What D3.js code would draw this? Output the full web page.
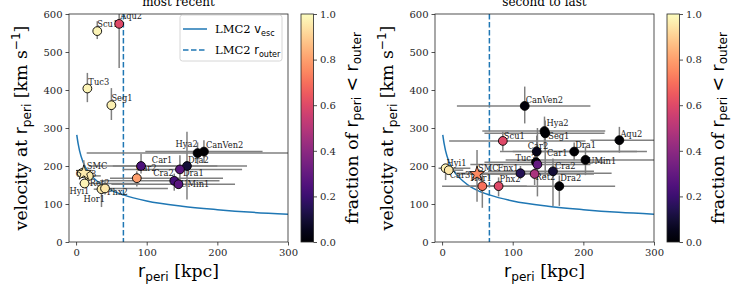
<!DOCTYPE html>
<html><head><meta charset="utf-8">
<script src="https://cdn.jsdelivr.net/npm/d3@7"></script>
<style>body{margin:0;background:#fff}svg{display:block}</style>
</head><body>
<svg id="c" width="743" height="284"></svg>
<script>
// ---------- data: most recent pericentre ----------
const names1 = ["Aqu2","Scu1","Tuc3","Seg1","CanVen2","Hya2","Dra2","Dra1","Car2","Car1","Cra2","UMin1","Car3","Ret2","SMC","Hyi1","Hor1","Phx2"];
const r1     = [61,30,16,50,181,172,157,147,92,86,139,145,8,18,11,12,36,41];
const v1     = [574,555,404,360,238,234,200,191,200,168,161,152,181,174,182,154,139,141];
const f1     = [0.6,0.98,0.98,0.97,0.0,0.0,0.1,0.27,0.24,0.8,0.22,0.27,0.97,0.96,0.96,0.98,0.96,0.95];
const rLo1   = [57,27,14,47,98,15,52,66,18,48,34,50,3,10,8,5,25,30];
const rHi1   = [65,33,18,53,264,305,242,235,200,208,203,225,25,35,14,90,45,130];
const vLo1   = [458,534,368,321,208,205,112,150,180,146,135,140,170,160,170,145,92,125];
const vHi1   = [610,581,445,405,268,262,290,228,232,186,180,165,195,190,215,165,158,160];

// ---------- data: second to last pericentre ----------
const names2 = ["CanVen2","Hya2","Seg1","Scu1","Aqu2","Car2","Dra1","UMin1","Car1","Tuc3","Fnx1","Ret2","Cra2","Dra2","Hyi1","Car3","SMC","Hor1","Phx2"];
const r2     = [117,145,146,86,251,134,187,203,133,135,111,131,157,166,5,9.5,49.5,57,80];
const v2     = [358,292,286,266,268,238,238,216,210,204,181,179,186,147,194,189,179,147,147];
const f2     = [0.02,0.0,0.0,0.6,0.0,0.05,0.0,0.0,0.0,0.3,0.15,0.47,0.1,0.0,0.97,0.95,0.75,0.7,0.6];
const rLo2   = [21,57,60,10,210,82,100,90,60,40,20,50,65,0,-5,0,20,40,50];
const rHi2   = [210,231,230,203,305,276,290,305,230,210,240,215,215,245,40,30,120,80,120];
const vLo2   = [312,250,171,240,235,200,215,176,185,120,165,150,95,95,163,180,106,90,120];
const vHi2   = [409,330,320,290,303,280,262,251,235,300,200,205,220,175,203,200,242,180,170];

// star marker names
const starNames = ["SMC"];

// LMC2 escape velocity curve
const escR = [1,3,5,10,20,30,40,50,67,100,150,200,250,300];
const escV = [282,258,240,210,178,160,146,136,124,108,94,85,78,73];
const rOuter = 67;

// axis ticks
const xTicks = [0,100,200,300];
const yTicks = [0,100,200,300,400,500,600];
const cTicks = [0,0.2,0.4,0.6,0.8,1.0];
const titles = ["most recent","second to last"];

// label offsets (pixels, style only)
const lab1 = {Aqu2:[1,-5],Scu1:[0,-4],Tuc3:[1,-3],Seg1:[0,-4],CanVen2:[2,-4],Hya2:[-22,-6],Dra2:[1,-3],Dra1:[3,7],
  Car2:[-5,5],Car1:[15,-15],Cra2:[-21,-5],UMin1:[2,3],SMC:[3,-4],Car3:[-6,4],Ret2:[1,10],Hyi1:[-15,11],Hor1:[-18,13],Phx2:[2,7]};
const lab2 = {CanVen2:[1,-3],Hya2:[2,-5],Seg1:[3,6],Scu1:[1,-2],Aqu2:[1,-3],Car2:[-9,-3],Dra1:[1,-4],Car1:[11,-6],
  UMin1:[2,4],Tuc3:[-22,-3],Cra2:[2,-2],Fnx1:[-23,-2],Ret2:[1,6],Dra2:[1,-5],Phx2:[1,-4],Hor1:[-12,-5],SMC:[1,-3],Car3:[1,8],Hyi1:[1,-2]};

// ---------- drawing ----------
const svg = d3.select("#c");
const SERIF = "DejaVu Serif", SANS = "DejaVu Sans";
const y = d3.scaleLinear().domain([0,600]).range([242,14]);
const panels = [
  {x: d3.scaleLinear().domain([-10,300]).range([69,288]), names:names1, r:r1, v:v1, f:f1, rLo:rLo1, rHi:rHi1, vLo:vLo1, vHi:vHi1, lab:lab1, cbx:301, legend:true},
  {x: d3.scaleLinear().domain([-10,300]).range([435,654]), names:names2, r:r2, v:v2, f:f2, rLo:rLo2, rHi:rHi2, vLo:vLo2, vHi:vHi2, lab:lab2, cbx:667, legend:false}
];
const color = d3.scaleSequential(d3.interpolateMagma).domain([0,1]);

function richText(sel, parts, size) {
  // parts: [text, family, kind] kind: 'n','sub','sup'
  let shift = 0;
  parts.forEach(p => {
    const t = sel.append("tspan").attr("font-family", p[1]).text(p[0]);
    let target = 0, fs = size;
    if (p[2] === "sub") { target = size*0.22; fs = size*0.7; }
    if (p[2] === "sup") { target = -size*0.4; fs = size*0.7; }
    t.attr("font-size", fs).attr("dy", target - shift);
    shift = target;
  });
}

const defs = svg.append("defs");
const grad = defs.append("linearGradient").attr("id","mag").attr("x1",0).attr("y1",1).attr("x2",0).attr("y2",0);
d3.range(0,1.0001,0.05).forEach(t => grad.append("stop").attr("offset", t).attr("stop-color", color(t)));

panels.forEach((P, pi) => {
  const g = svg.append("g");
  const [x0, x1] = P.x.range();
  defs.append("clipPath").attr("id","clip"+pi).append("rect").attr("x",x0).attr("y",14).attr("width",x1-x0).attr("height",228);
  const plot = g.append("g").attr("clip-path","url(#clip"+pi+")");

  // escape velocity curve
  plot.append("path").datum(escR.map((r,i)=>[r,escV[i]]))
    .attr("d", d3.line().x(d=>P.x(d[0])).y(d=>y(d[1])).curve(d3.curveMonotoneX))
    .attr("fill","none").attr("stroke","#1f77b4").attr("stroke-width",1.5);
  // r_outer
  plot.append("line").attr("x1",P.x(rOuter)).attr("x2",P.x(rOuter)).attr("y1",14).attr("y2",242)
    .attr("stroke","#1f77b4").attr("stroke-width",1.5).attr("stroke-dasharray","5.5,2.5");

  const idx = d3.range(P.names.length);
  // error bars
  idx.forEach(i => {
    plot.append("line").attr("x1",P.x(P.rLo[i])).attr("x2",P.x(P.rHi[i])).attr("y1",y(P.v[i])).attr("y2",y(P.v[i]))
      .attr("stroke","#808080").attr("stroke-width",1.5);
    plot.append("line").attr("x1",P.x(P.r[i])).attr("x2",P.x(P.r[i])).attr("y1",y(P.vLo[i])).attr("y2",y(P.vHi[i]))
      .attr("stroke","#808080").attr("stroke-width",1.5);
  });
  // labels
  idx.forEach(i => {
    const o = P.lab[P.names[i]] || [1,-4];
    plot.append("text").attr("x",P.x(P.r[i])+o[0]).attr("y",y(P.v[i])+o[1])
      .attr("font-family",SERIF).attr("font-size",8.3).attr("fill","#222").text(P.names[i]);
  });
  // markers
  idx.forEach(i => {
    const cx = P.x(P.r[i]), cy = y(P.v[i]);
    if (starNames.includes(P.names[i])) {
      plot.append("path").attr("d", d3.symbol(d3.symbolStar, 70)()).attr("transform",`translate(${cx},${cy})`)
        .attr("fill",color(P.f[i])).attr("stroke","#000").attr("stroke-width",0.8);
    } else {
      plot.append("circle").attr("cx",cx).attr("cy",cy).attr("r",4.4)
        .attr("fill",color(P.f[i])).attr("stroke","#000").attr("stroke-width",0.9);
    }
  });

  // axes
  const ax = g.append("g").attr("transform","translate(0,242)")
    .call(d3.axisBottom(P.x).tickValues(xTicks).tickSize(3.5).tickPadding(3).tickFormat(d3.format("d")));
  const ay = g.append("g").attr("transform",`translate(${x0},0)`)
    .call(d3.axisLeft(y).tickValues(yTicks).tickSize(3.5).tickPadding(3).tickFormat(d3.format("d")));
  [ax, ay].forEach(a => {
    a.select(".domain").remove();
    a.selectAll("text").attr("font-family",SERIF).attr("font-size",10).attr("fill","#262626");
    a.selectAll("line").attr("stroke","#262626").attr("stroke-width",0.8);
  });
  g.append("rect").attr("x",x0).attr("y",14).attr("width",x1-x0).attr("height",228)
    .attr("fill","none").attr("stroke","#262626").attr("stroke-width",0.8);

  // title
  g.append("text").attr("x",(x0+x1)/2).attr("y",6).attr("text-anchor","middle")
    .attr("font-family",SERIF).attr("font-size",12).attr("fill","#000").text(titles[pi]);

  // x label
  const xl = g.append("text").attr("x",(x0+x1)/2).attr("y",277).attr("text-anchor","middle").attr("fill","#000");
  richText(xl, [["r",SANS,"n"],["peri",SANS,"sub"],[" [kpc]",SERIF,"n"]], 17.3);
  // y label
  const yl = g.append("text").attr("transform",`translate(${x0-42},128) rotate(-90)`).attr("text-anchor","middle").attr("fill","#000");
  richText(yl, [["velocity at ",SERIF,"n"],["r",SANS,"n"],["peri",SANS,"sub"],[" [km s",SERIF,"n"],["\u22121",SANS,"sup"],["]",SERIF,"n"]], 17.3);

  // legend
  if (P.legend) {
    const lg = g.append("g");
    lg.append("rect").attr("x",180).attr("y",15).attr("width",102).attr("height",46).attr("rx",2.5)
      .attr("fill","#fff").attr("fill-opacity",0.85).attr("stroke","#ccc").attr("stroke-width",0.8);
    lg.append("line").attr("x1",183).attr("x2",207).attr("y1",29).attr("y2",29).attr("stroke","#1f77b4").attr("stroke-width",1.5);
    lg.append("line").attr("x1",183).attr("x2",207).attr("y1",50).attr("y2",50).attr("stroke","#1f77b4").attr("stroke-width",1.5).attr("stroke-dasharray","5.5,2.5");
    const t1 = lg.append("text").attr("x",215).attr("y",33).attr("fill","#000");
    richText(t1, [["LMC2 ",SERIF,"n"],["v",SANS,"n"],["esc",SANS,"sub"]], 11.5);
    const t2 = lg.append("text").attr("x",215).attr("y",54).attr("fill","#000");
    richText(t2, [["LMC2 ",SERIF,"n"],["r",SANS,"n"],["outer",SANS,"sub"]], 11.5);
  }

  // colorbar
  const cb = g.append("g");
  const cw = 12.5;
  cb.append("rect").attr("x",P.cbx).attr("y",14).attr("width",cw).attr("height",228).attr("fill","url(#mag)")
    .attr("stroke","#262626").attr("stroke-width",0.8);
  const cs = d3.scaleLinear().domain([0,1]).range([242,14]);
  const ca = cb.append("g").attr("transform",`translate(${P.cbx+cw},0)`)
    .call(d3.axisRight(cs).tickValues(cTicks).tickSize(3.5).tickPadding(3).tickFormat(d3.format(".1f")));
  ca.select(".domain").remove();
  ca.selectAll("text").attr("font-family",SERIF).attr("font-size",10).attr("fill","#262626");
  ca.selectAll("line").attr("stroke","#262626").attr("stroke-width",0.8);
  const cl = cb.append("text").attr("transform",`translate(${P.cbx+cw+44},128) rotate(-90)`).attr("text-anchor","middle").attr("fill","#000");
  richText(cl, [["fraction of ",SERIF,"n"],["r",SANS,"n"],["peri",SANS,"sub"],[" < ",SANS,"n"],["r",SANS,"n"],["outer",SANS,"sub"]], 17.3);
});
</script>
</body></html>
